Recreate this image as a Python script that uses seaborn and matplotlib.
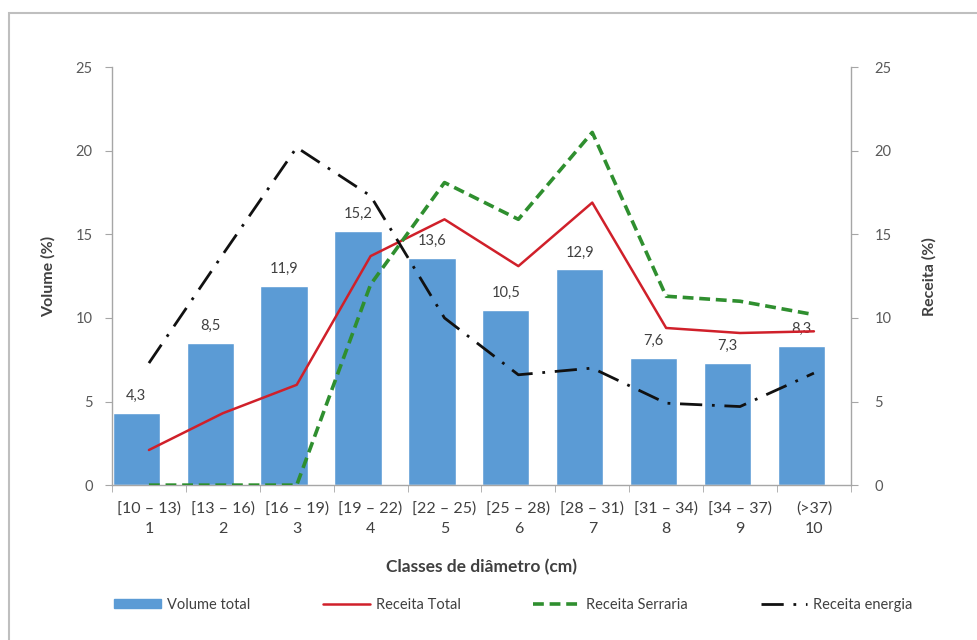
import numpy as np
import matplotlib
matplotlib.use("Agg")
import matplotlib.pyplot as plt
from matplotlib.patches import Rectangle
from matplotlib.lines import Line2D
import seaborn as sns

# data
classes = ["[10 – 13)", "[13 – 16)", "[16 – 19)", "[19 – 22)", "[22 – 25)",
           "[25 – 28)", "[28 – 31)", "[31 – 34)", "[34 – 37)", "(>37)"]
class_num = [1, 2, 3, 4, 5, 6, 7, 8, 9, 10]
volume_total = [4.3, 8.5, 11.9, 15.2, 13.6, 10.5, 12.9, 7.6, 7.3, 8.3]
receita_total = [2.1, 4.3, 6.0, 13.7, 15.9, 13.1, 16.9, 9.4, 9.1, 9.2]
receita_serraria = [0.0, 0.0, 0.0, 12.0, 18.1, 15.9, 21.1, 11.3, 11.0, 10.2]
receita_energia = [7.3, 13.8, 20.2, 17.3, 10.0, 6.6, 7.0, 4.9, 4.7, 6.7]

sns.set_style("white")
plt.rcParams["font.family"] = ["Lato", "DejaVu Sans"]

fig = plt.figure(figsize=(9.78, 6.4), dpi=100)
ax = fig.add_axes([0.1145, 0.242, 0.7555, 0.653])

x = np.array(class_num, dtype=float)
bar_x = x - 0.17  # bars sit a little left of the category centre in the original

sns.barplot(x=bar_x, y=volume_total, native_scale=True, width=0.64,
            color="#5B9BD5", saturation=1, ax=ax, zorder=2)
for bx, v in zip(bar_x, volume_total):
    ax.text(bx, v + 0.6, f"{v:.1f}".replace(".", ","), ha="center", va="bottom",
            fontsize=10.5, color="#404040", zorder=1)

ax2 = ax.twinx()
sns.lineplot(x=x, y=receita_total, color="#D0202A", linewidth=1.8, ax=ax2)
sns.lineplot(x=x, y=receita_serraria, color="#2F8F2F", linewidth=2.6,
             linestyle=(0, (3, 1.6)), ax=ax2)
sns.lineplot(x=x, y=receita_energia, color="#111111", linewidth=2.0,
             linestyle=(0, (8, 3.5, 1, 3.5)), ax=ax2)

for a in (ax, ax2):
    a.set_xlim(0.5, 10.5)
    a.set_ylim(0, 25)
    a.set_yticks(range(0, 26, 5))
    for s in a.spines.values():
        s.set_visible(False)

ax.spines["left"].set_visible(True)
ax.spines["bottom"].set_visible(True)
ax2.spines["right"].set_visible(True)
for s in (ax.spines["left"], ax.spines["bottom"], ax2.spines["right"]):
    s.set_color("#A6A6A6")
    s.set_linewidth(1.0)

ax.set_xticks(x)
ax.set_xticklabels([f"{c}\n{n}" for c, n in zip(classes, class_num)],
                   linespacing=1.5)
ax.set_xticks(np.arange(0.5, 11, 1), minor=True)
ax.tick_params(axis="x", which="major", length=0, pad=12, labelsize=11.5,
               labelcolor="#404040")
ax.tick_params(axis="x", which="minor", length=5, color="#A6A6A6", bottom=True)
ax.tick_params(axis="y", left=True, length=5, color="#A6A6A6", pad=9,
               labelsize=10.5, labelcolor="#595959")
ax2.tick_params(axis="y", right=True, length=5, color="#A6A6A6", pad=12,
                labelsize=10.5, labelcolor="#595959")

ax.set_xlabel("Classes de diâmetro (cm)", fontsize=12.5, fontweight="bold",
              color="#404040", labelpad=17)
ax.set_ylabel("Volume (%)", fontsize=11.5, fontweight="bold", color="#404040",
              labelpad=14)
ax2.set_ylabel("Receita (%)", fontsize=11.5, fontweight="bold", color="#404040",
               labelpad=22)
ax.set_zorder(1)
ax2.set_zorder(2)
ax.patch.set_visible(False)

handles = [
    Rectangle((0, 0), 1, 1, color="#5B9BD5"),
    Line2D([], [], color="#D0202A", linewidth=1.8),
    Line2D([], [], color="#2F8F2F", linewidth=2.6, linestyle=(0, (3, 1.6))),
    Line2D([], [], color="#111111", linewidth=2.0, linestyle=(0, (8, 3.5, 1, 3.5))),
]
labels = ["Volume total", "Receita Total", "Receita Serraria", "Receita energia"]
fig.legend(handles, labels, loc="center", bbox_to_anchor=(0.525, 0.055), ncol=4,
           frameon=False, fontsize=10.5, handlelength=3.2, handleheight=0.5,
           columnspacing=5.0, handletextpad=0.4, labelcolor="#404040")

# thin frame around the chart area (only top and left visible in the original)
fig.patches.append(Rectangle((9 / 978, -0.1), 1.2, 1.1 - 13 / 640,
                             transform=fig.transFigure, fill=False,
                             edgecolor="#BFBFBF", linewidth=1.5))

fig.savefig("out.png", dpi=100)
